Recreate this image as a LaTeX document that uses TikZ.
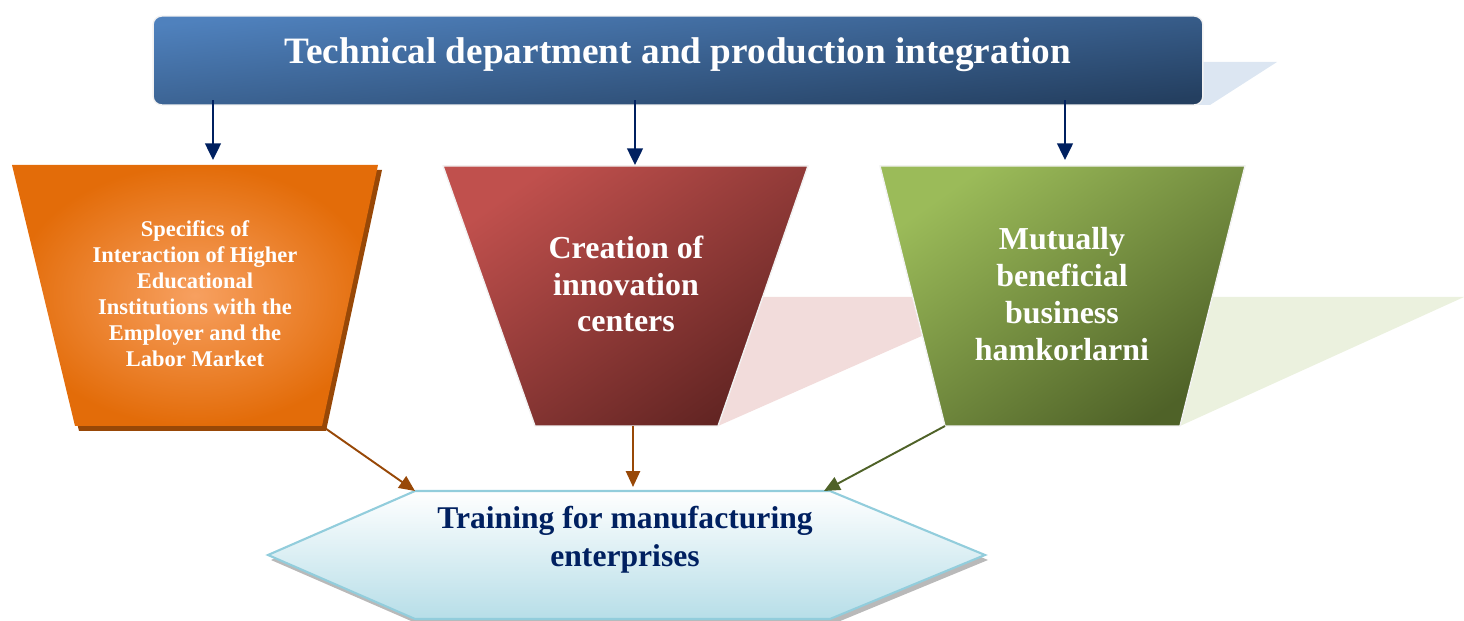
\documentclass[tikz,border=0pt]{standalone}
\usepackage{fontspec}
\setmainfont{Liberation Serif}
\usetikzlibrary{arrows.meta}

\definecolor{navy}{HTML}{002060}
\definecolor{titlelight}{HTML}{4F81BD}
\definecolor{titledark}{HTML}{243F60}
\definecolor{titleshadow}{HTML}{DCE6F2}
\definecolor{orangemid}{HTML}{F7A060}
\definecolor{orangeedge}{HTML}{E36C09}
\definecolor{orangeshadow}{HTML}{984807}
\definecolor{redlight}{HTML}{C0504D}
\definecolor{reddark}{HTML}{632523}
\definecolor{redshadow}{HTML}{F2DCDB}
\definecolor{greenlight}{HTML}{9BBB59}
\definecolor{greendark}{HTML}{4F6228}
\definecolor{greenshadow}{HTML}{EBF1DE}
\definecolor{hexline}{HTML}{92CDDC}
\definecolor{hexfill}{HTML}{B7DEE8}

\begin{document}
\begin{tikzpicture}[x=0.02cm,y=-0.02cm,
  titlebox/.style={rounded corners=5pt, minimum width=21cm, minimum height=1.78cm,
    top color=titlelight, bottom color=titledark, shading angle=6, draw=gray!10, line width=0.8pt},
  downarrow/.style={draw=navy, line width=1.2pt, shorten <=-3pt, -{Triangle[length=9.5pt,width=9pt]}},
  feedarrow/.style={line width=1.1pt, -{Triangle[length=9pt,width=8pt]}},
  boxtext/.style={text=white, font=\bfseries, align=center, inner sep=0pt},
  edge/.style={draw=gray!10, line width=0.8pt}]
\useasboundingbox (0,0) rectangle (1464,621);

% Title with its shadow
\fill[titleshadow] (1195,62) -- (1277,62) -- (1210,105) -- (1195,105) -- cycle;
\node[titlebox] (title) at (678,60.5) {};
\node[boxtext, anchor=base, font=\fontsize{21.2}{25}\selectfont\bfseries] (titlelabel) at (678,64)
  {Technical department and production integration};

% Corners of the three boxes
\coordinate (spec-tl) at (12,165);
\coordinate (spec-tr) at (378,165);
\coordinate (spec-br) at (322,426);
\coordinate (spec-bl) at (75,426);
\coordinate (innov-tl) at (443,166);
\coordinate (innov-tr) at (808,166);
\coordinate (innov-br) at (718,426);
\coordinate (innov-bl) at (535,426);
\coordinate (mutual-tl) at (880,166);
\coordinate (mutual-tr) at (1245,166);
\coordinate (mutual-br) at (1180,426);
\coordinate (mutual-bl) at (945,426);

% Flat shadows
\fill[redshadow] (760,297) -- (1010,297) -- (innov-br) -- cycle;
\fill[greenshadow] (1200,297) -- (1464,297) -- (mutual-br) -- cycle;

% Orange box
\fill[orangeshadow] ([shift={(4,5)}]spec-tl) -- ([shift={(4,5)}]spec-tr)
  -- ([shift={(4,5)}]spec-br) -- ([shift={(4,5)}]spec-bl) -- cycle;
\path[inner color=orangemid, outer color=orangeedge] (spec-tl) -- (spec-tr) -- (spec-br) -- (spec-bl) -- cycle;
\node[boxtext, font=\fontsize{12.8}{14.8}\selectfont\bfseries] (spec) at (195,294)
  {Specifics of\\Interaction of Higher\\Educational\\Institutions with the\\Employer and the\\Labor Market};

% Red box
\path[edge, top color=redlight, bottom color=reddark, shading angle=35]
  (innov-tl) -- (innov-tr) -- (innov-br) -- (innov-bl) -- cycle;
\node[boxtext, font=\fontsize{18.2}{21}\selectfont\bfseries] (innov) at (626,284)
  {Creation of\\innovation\\centers};

% Green box
\path[edge, top color=greenlight, bottom color=greendark, shading angle=35]
  (mutual-tl) -- (mutual-tr) -- (mutual-br) -- (mutual-bl) -- cycle;
\node[boxtext, font=\fontsize{18.2}{21}\selectfont\bfseries] (mutual) at (1062,294)
  {Mutually\\beneficial\\business\\hamkorlarni};

% Bottom hexagon
\coordinate (train-tl) at (415,491);
\coordinate (train-tr) at (830,491);
\coordinate (train-r) at (985,555);
\coordinate (train-br) at (830,619);
\coordinate (train-bl) at (415,619);
\coordinate (train-l) at (268,555);
\fill[gray!55] ([shift={(3,5)}]train-tl) -- ([shift={(3,5)}]train-tr) -- ([shift={(3,5)}]train-r)
  -- ([shift={(3,5)}]train-br) -- ([shift={(3,5)}]train-bl) -- ([shift={(3,5)}]train-l) -- cycle;
\path[draw=hexline, line width=1.2pt, top color=white, bottom color=hexfill]
  (train-tl) -- (train-tr) -- (train-r) -- (train-br) -- (train-bl) -- (train-l) -- cycle;
\node[boxtext, text=navy, font=\fontsize{18}{21.6}\selectfont\bfseries] (train) at (625,540)
  {Training for manufacturing\\enterprises};

% Arrows from the title
\coordinate (spec-in) at (213,160);
\coordinate (innov-in) at (635,165);
\coordinate (mutual-in) at (1065,160);
\draw[downarrow] (title.south -| spec-in) -- (spec-in);
\draw[downarrow] (title.south -| innov-in) -- (innov-in);
\draw[downarrow] (title.south -| mutual-in) -- (mutual-in);

% Arrows into the hexagon
\coordinate (innov-out) at (633,426);
\coordinate (train-in) at (633,487);
\coordinate (train-gin) at (824,491);
\draw[feedarrow, orangeshadow] (spec-br) -- (train-tl);
\draw[feedarrow, orangeshadow] (innov-out) -- (train-in);
\draw[feedarrow, greendark] (mutual-bl) -- (train-gin);

\end{tikzpicture}
\end{document}
